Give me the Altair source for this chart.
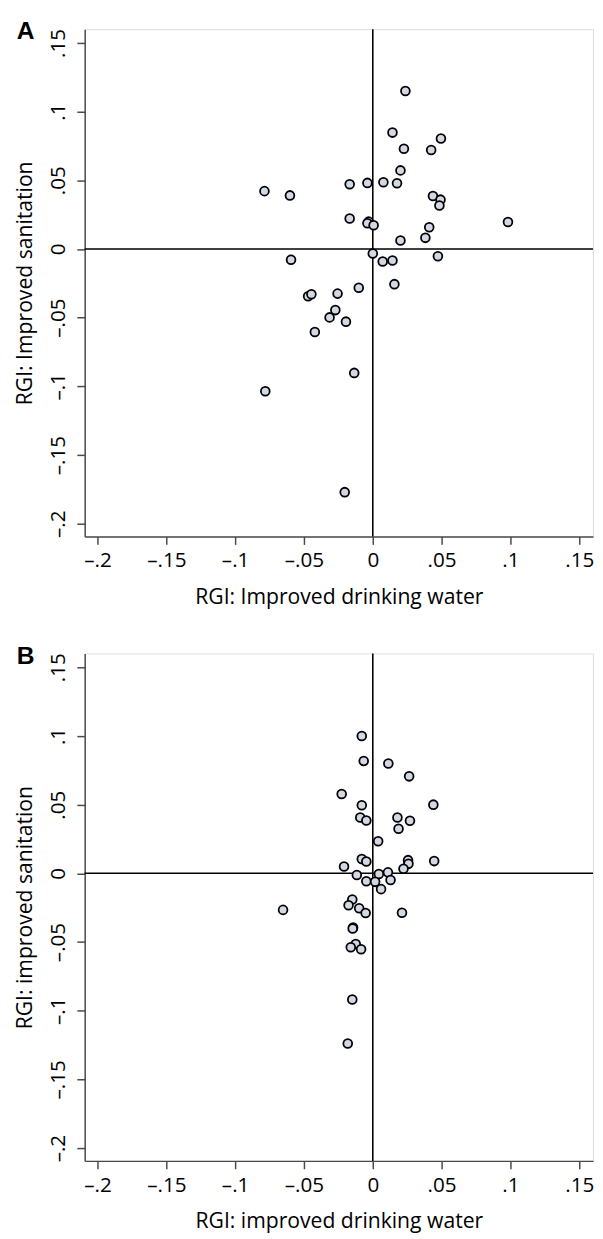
import altair as alt
import pandas as pd

# Panel A data
a_x = [0.0237, 0.0143, 0.0495, 0.0226, 0.0424, 0.0201, -0.0168, -0.0039, 0.0077, 0.0176,
       -0.0787, -0.0602, 0.0437, 0.0492, 0.0484, -0.0168, -0.0030, -0.0039, 0.0006, 0.0982,
       0.0410, 0.0382, 0.0201, 0.0000, 0.0072, 0.0143, 0.0473, -0.0594, 0.0157, -0.0102,
       -0.0470, -0.0446, -0.0256, -0.0272, -0.0314, -0.0195, -0.0421, -0.0135, -0.0781, -0.0204]
a_y = [0.1150, 0.0847, 0.0804, 0.0730, 0.0720, 0.0572, 0.0471, 0.0481, 0.0486, 0.0478,
       0.0421, 0.0390, 0.0385, 0.0359, 0.0316, 0.0222, 0.0199, 0.0187, 0.0172, 0.0196,
       0.0158, 0.0081, 0.0062, -0.0033, -0.0091, -0.0084, -0.0053, -0.0079, -0.0256, -0.0282,
       -0.0344, -0.0330, -0.0325, -0.0445, -0.0498, -0.0529, -0.0605, -0.0902, -0.1036, -0.1770]

# Panel B data
b_x = [-0.0080, -0.0066, 0.0113, 0.0264, -0.0226, -0.0080, 0.0440, -0.0091, -0.0047, 0.0179,
       0.0270, 0.0187, 0.0039, -0.0080, -0.0047, 0.0256, 0.0259, 0.0446, -0.0209, 0.0223,
       -0.0116, 0.0044, 0.0110, -0.0047, 0.0017, 0.0129, 0.0060, -0.0149, -0.0176, -0.0099,
       -0.0052, -0.0652, 0.0212, -0.0143, -0.0146, -0.0124, -0.0160, -0.0085, -0.0149, -0.0182]
b_y = [0.1000, 0.0818, 0.0799, 0.0706, 0.0577, 0.0495, 0.0500, 0.0407, 0.0385, 0.0407,
       0.0383, 0.0325, 0.0234, 0.0105, 0.0086, 0.0096, 0.0069, 0.0089, 0.0050, 0.0033,
       -0.0012, -0.0005, 0.0007, -0.0057, -0.0062, -0.0048, -0.0115, -0.0191, -0.0232, -0.0254,
       -0.0289, -0.0266, -0.0287, -0.0395, -0.0402, -0.0514, -0.0538, -0.0553, -0.0919, -0.1239]

tick_values = [-0.2, -0.15, -0.1, -0.05, 0, 0.05, 0.1, 0.15]
tick_labels = ["\u2013.2", "\u2013.15", "\u2013.1", "\u2013.05", "0", ".05", ".1", ".15"]
domain = [-0.2093, 0.1600]

label_expr = ""
for v, l in zip(tick_values, tick_labels):
    label_expr += f"abs(datum.value - ({v})) < 0.001 ? '{l}' : "
label_expr += "''"

FONT = "Open Sans"
AXIS_COLOR = "#4a4a4a"
W, H = 517, 516


def panel(xs, ys, letter, xtitle, ytitle):
    df = pd.DataFrame({"x": xs, "y": ys})
    xenc = alt.X("x:Q", scale=alt.Scale(domain=domain, nice=False, zero=False),
                 axis=alt.Axis(values=tick_values, labelExpr=label_expr, title=xtitle,
                               labelPadding=6, titlePadding=16, tickSize=8))
    yenc = alt.Y("y:Q", scale=alt.Scale(domain=domain, nice=False, zero=False),
                 axis=alt.Axis(values=tick_values, labelExpr=label_expr, title=ytitle,
                               labelAngle=270, labelAlign="center", labelBaseline="bottom",
                               labelPadding=9, titlePadding=11, tickSize=8))
    vrule = alt.Chart(pd.DataFrame({"x": [0]})).mark_rule(color="black", strokeWidth=1.6).encode(
        x=alt.X("x:Q", scale=alt.Scale(domain=domain, nice=False, zero=False)))
    hrule = alt.Chart(pd.DataFrame({"y": [0]})).mark_rule(color="black", strokeWidth=1.6).encode(
        y=alt.Y("y:Q", scale=alt.Scale(domain=domain, nice=False, zero=False)))
    pts = alt.Chart(df).mark_circle(size=80, fill="#d3d9e4", stroke="black",
                                    strokeWidth=1.8, opacity=1).encode(x=xenc, y=yenc)
    lab = alt.Chart(pd.DataFrame({"t": [letter]})).mark_text(
        align="left", baseline="alphabetic", fontSize=25, fontWeight="bold",
        font="Liberation Sans", color="black").encode(
        x=alt.value(-69), y=alt.value(10.3), text="t:N")
    return alt.layer(vrule, hrule, pts, lab).properties(width=W, height=H)


chart = alt.vconcat(
    panel(a_x, a_y, "A", "RGI: Improved drinking water", "RGI: Improved sanitation"),
    panel(b_x, b_y, "B", "RGI: improved drinking water", "RGI: improved sanitation"),
    spacing=35,
).configure_view(stroke=None).configure(
    padding={"left": 6, "top": 0, "right": 0, "bottom": 0}
).configure_axis(
    grid=False, domainColor=AXIS_COLOR, domainWidth=1.5, tickColor=AXIS_COLOR, tickWidth=1.5,
    labelFont=FONT, labelFontSize=21, labelColor="black",
    titleFont=FONT, titleFontSize=21.5, titleFontWeight="normal", titleColor="black",
)

chart.save("out.html", embed_options={"renderer": "svg", "actions": False})
